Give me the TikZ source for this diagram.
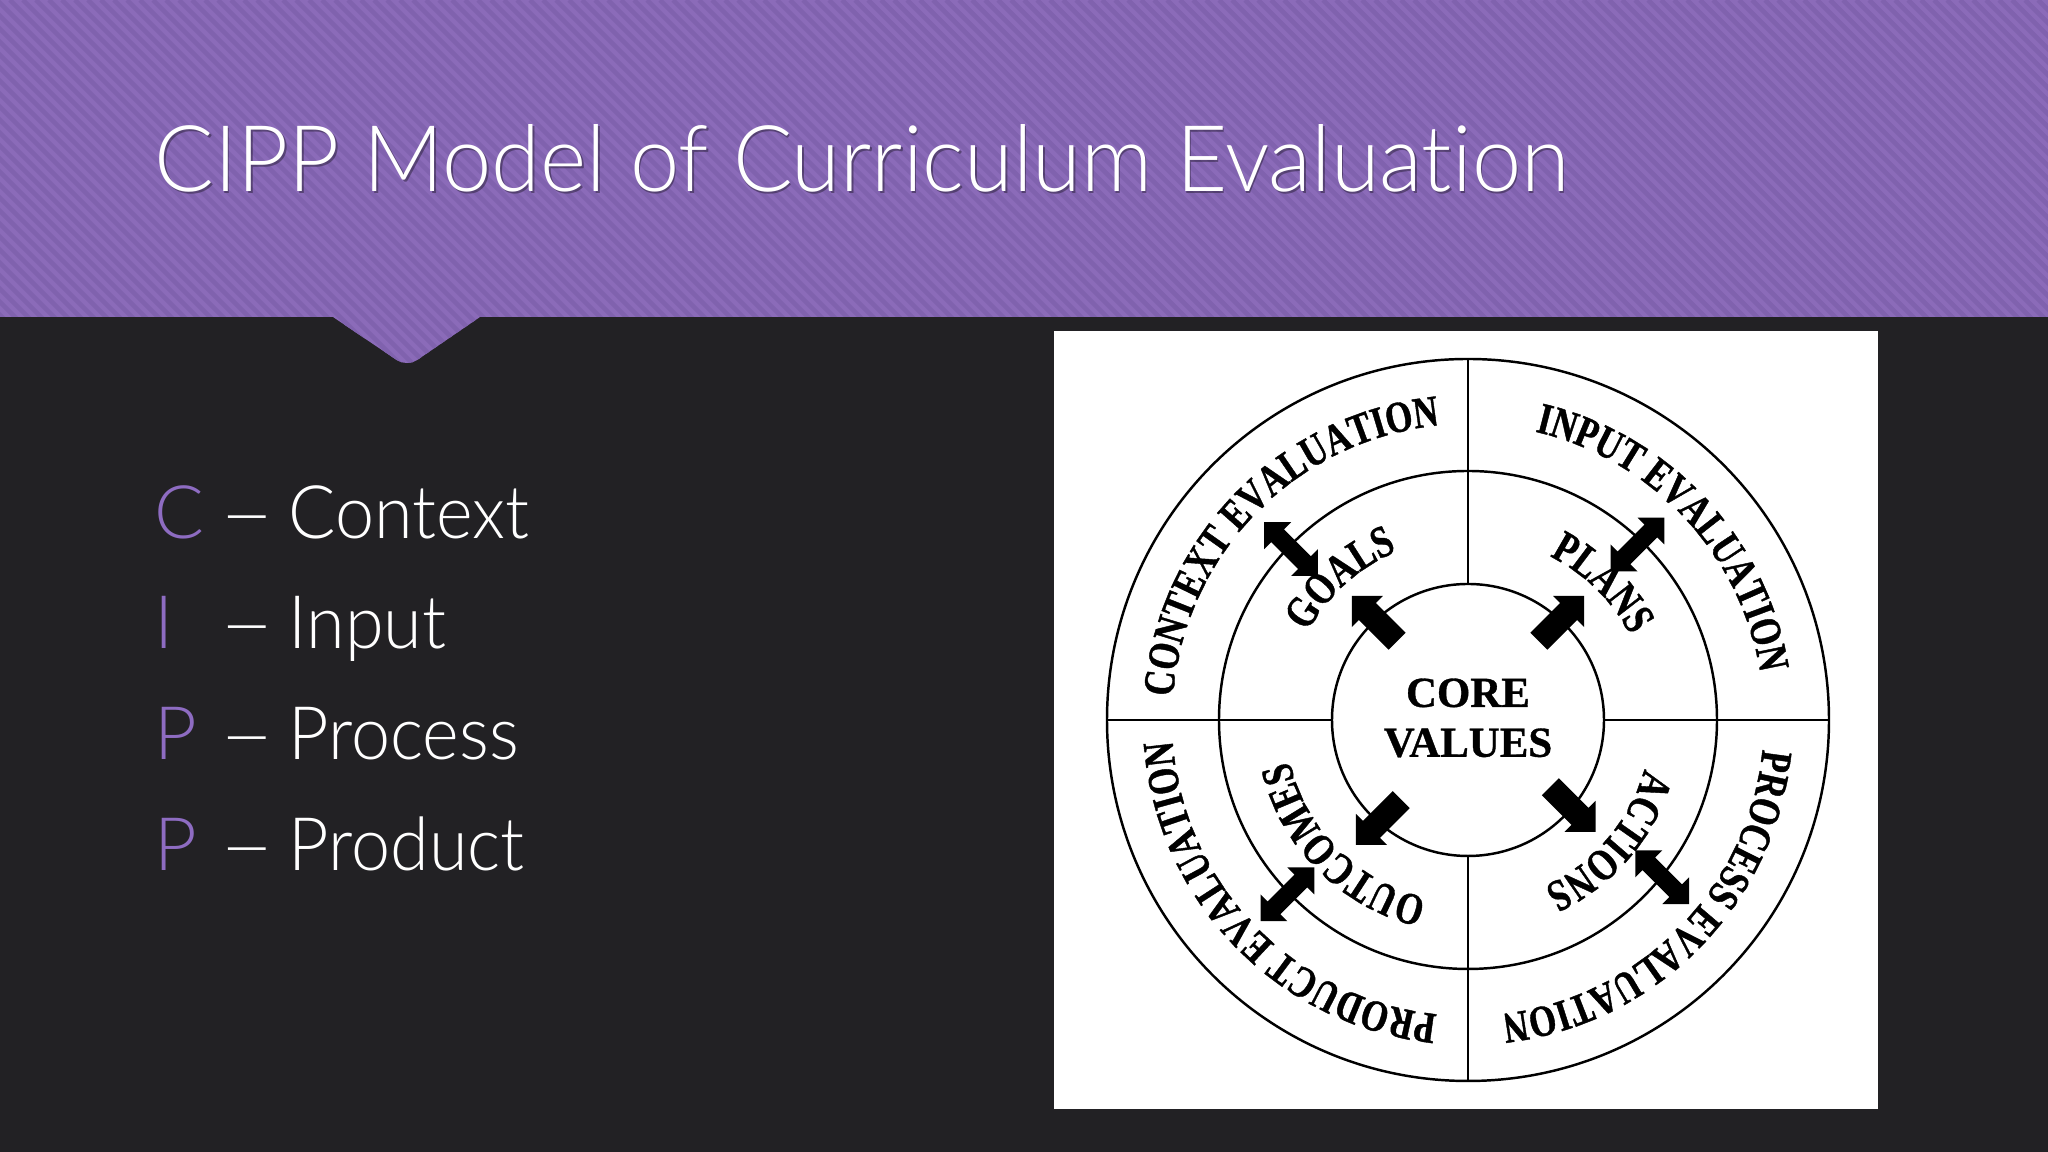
\documentclass[tikz,border=0pt]{standalone}
\usepackage{fontspec}
\setmainfont{Lato}[UprightFont=* Light, Ligatures=NoCommon]
\newfontfamily\diagfont{Liberation Serif}[FakeStretch=0.78, FakeBold=0.9]
\newfontfamily\corefont{Liberation Serif}[FakeBold=0.8]
\usetikzlibrary{decorations.text}

\definecolor{slidebg}{HTML}{222124}
\definecolor{bandpurple}{HTML}{8B6BB9}
\definecolor{bandstripe}{HTML}{8062AE}
\definecolor{letterpurple}{HTML}{8E6CC2}

\newcommand\ringfont{\diagfont\bfseries\fontsize{12.6}{14}\selectfont}
\newcommand\labelfont{\diagfont\bfseries\fontsize{12.8}{14}\selectfont}

\begin{document}
\begin{tikzpicture}[
    ring/.style={line width=0.7pt, black},
    outerlabel/.style={decorate, decoration={text along path, text align=center, text={|\ringfont|#1}}},
    innerlabel/.style={decorate, decoration={text along path, text align=center, text={|\labelfont|#1}}},
    titletext/.style={anchor=base west, inner sep=0pt, font=\fontsize{26.2}{30}\selectfont},
    slidetext/.style={text=white, font=\fontsize{21}{24}\selectfont, anchor=base west, inner sep=0pt},
    cippletter/.style={slidetext, text=letterpurple},
    pics/corearrow/.style={code={
        \fill (0,-0.12) -- (0.42,-0.12) -- (0.42,-0.22) -- (0.64,0) -- (0.42,0.22) -- (0.42,0.12) -- (0,0.12) -- cycle;}},
    pics/twoarrow/.style={code={
        \fill (-0.38,0) -- (-0.19,0.19) -- (-0.19,0.09) -- (0.19,0.09) -- (0.19,0.19) -- (0.38,0)
              -- (0.19,-0.19) -- (0.19,-0.09) -- (-0.19,-0.09) -- (-0.19,-0.19) -- cycle;}}
  ]
  \useasboundingbox (0,0) rectangle (20.48,11.52);
  \fill[slidebg] (0,0) rectangle (20.48,11.52);

  % title band with notch
  \fill[bandpurple] (0,11.52) -- (20.48,11.52) -- (20.48,8.35) -- (4.80,8.35)
      [rounded corners=0.12cm] -- (4.07,7.85) [sharp corners] -- (3.33,8.35) -- (0,8.35) -- cycle;
  \begin{scope}
    \clip (0,11.52) -- (20.48,11.52) -- (20.48,8.35) -- (4.80,8.35)
        [rounded corners=0.12cm] -- (4.07,7.85) [sharp corners] -- (3.33,8.35) -- (0,8.35) -- cycle;
    \foreach \s in {0,...,190}
      \draw[bandstripe, line width=0.045cm] (\s*0.13-3.8,11.52) -- ++(3.8,-3.8);
  \end{scope}

  \node[titletext, text=black, opacity=0.35] (titleshadow) at (1.555,9.585) {\scalebox{0.96}[1]{CIPP Model of Curriculum Evaluation}};
  \node[titletext, text=white] (title) at (1.54,9.60) {\scalebox{0.96}[1]{CIPP Model of Curriculum Evaluation}};

  % letters
  \node[cippletter] (cC) at (1.54,6.13) {C};
  \node[slidetext]  (dC) at (2.19,6.13) {\scalebox{1.3}[1]{–}};
  \node[slidetext]  (wC) at (2.88,6.13) {\scalebox{0.95}[1]{Context}};
  \node[cippletter] (cI) at (1.54,5.03) {I};
  \node[slidetext]  (dI) at (2.19,5.03) {\scalebox{1.3}[1]{–}};
  \node[slidetext]  (wI) at (2.88,5.03) {\scalebox{0.95}[1]{Input}};
  \node[cippletter] (cP) at (1.54,3.92) {P};
  \node[slidetext]  (dP) at (2.19,3.92) {\scalebox{1.3}[1]{–}};
  \node[slidetext]  (wP) at (2.88,3.92) {\scalebox{0.95}[1]{Process}};
  \node[cippletter] (cQ) at (1.54,2.81) {P};
  \node[slidetext]  (dQ) at (2.19,2.81) {\scalebox{1.3}[1]{–}};
  \node[slidetext]  (wQ) at (2.88,2.81) {\scalebox{0.95}[1]{Product}};

  % diagram
  \fill[white] (10.54,0.43) rectangle (18.78,8.21);
  \coordinate (core) at (14.68,4.32);
  \draw[ring] (core) circle[radius=3.61];
  \draw[ring] (core) circle[radius=2.49];
  \draw[ring] (core) circle[radius=1.36];
  \draw[ring] ([shift={(90:1.36)}]core) -- ([shift={(90:3.61)}]core);
  \draw[ring] ([shift={(270:1.36)}]core) -- ([shift={(270:3.61)}]core);
  \draw[ring] ([shift={(180:1.36)}]core) -- ([shift={(180:3.61)}]core);
  \draw[ring] ([shift={(0:1.36)}]core) -- ([shift={(0:3.61)}]core);

  \node[font=\corefont\bfseries\fontsize{12.2}{14.2}\selectfont, align=center, inner sep=0pt] (corevalues) at ([yshift=0.02cm]core) {CORE\\VALUES};

  \path[outerlabel=CONTEXT EVALUATION] ([shift={(190.5:2.96)}]core) arc[start angle=190.5, end angle=80.5, radius=2.96];
  \path[outerlabel=INPUT EVALUATION] ([shift={(98:2.96)}]core) arc[start angle=98, end angle=-12, radius=2.96];
  \path[outerlabel=PROCESS EVALUATION] ([shift={(10.4:2.96)}]core) arc[start angle=10.4, end angle=-99.6, radius=2.96];
  \path[outerlabel=PRODUCT EVALUATION] ([shift={(-81:2.96)}]core) arc[start angle=-81, end angle=-191, radius=2.96];

  \path[innerlabel=GOALS] ([shift={(177:1.83)}]core) arc[start angle=177, end angle=87, radius=1.83];
  \path[innerlabel=PLANS] ([shift={(90.5:1.83)}]core) arc[start angle=90.5, end angle=0.5, radius=1.83];
  \path[innerlabel=ACTIONS] ([shift={(4.5:1.83)}]core) arc[start angle=4.5, end angle=-85.5, radius=1.83];
  \path[innerlabel=OUTCOMES] ([shift={(-90:1.83)}]core) arc[start angle=-90, end angle=-180, radius=1.83];

  \pic[rotate=135]  at ([shift={(132:1.06)}]core)  {corearrow};
  \pic[rotate=45]   at ([shift={(48:1.06)}]core)   {corearrow};
  \pic[rotate=-45]  at ([shift={(-39:1.06)}]core)  {corearrow};
  \pic[rotate=-135] at ([shift={(-130:1.04)}]core) {corearrow};

  \pic[rotate=135]  at ([shift={(136:2.46)}]core)  {twoarrow};
  \pic[rotate=45]   at ([shift={(46:2.44)}]core)   {twoarrow};
  \pic[rotate=-45]  at ([shift={(-39:2.50)}]core)  {twoarrow};
  \pic[rotate=-135] at ([shift={(-136:2.51)}]core) {twoarrow};
\end{tikzpicture}
\end{document}
